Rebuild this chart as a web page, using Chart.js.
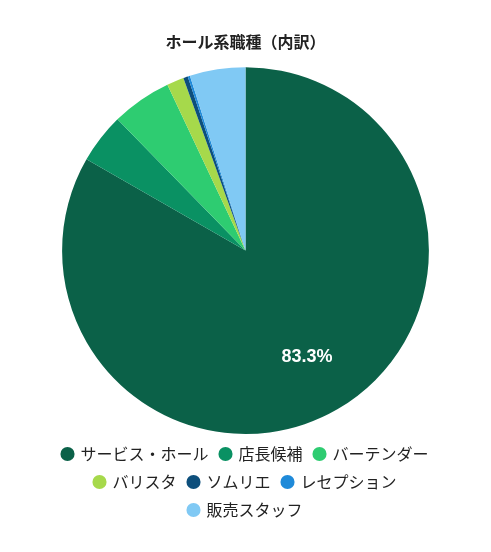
<!DOCTYPE html>
<html>
<head>
<meta charset="utf-8">
<script src="https://cdn.jsdelivr.net/npm/chart.js@4"></script>
<style>
  body { margin: 0; background: #fff; }
  #wrap { width: 491px; height: 552px; }
</style>
</head>
<body>
<div id="wrap"><canvas id="chart"></canvas></div>
<script>
const labels = ['サービス・ホール', '店長候補', 'バーテンダー', 'バリスタ', 'ソムリエ', 'レセプション', '販売スタッフ'];
const shares = [83.3, 4.4, 5.3, 1.5, 0.4, 0.2, 4.9];
const colors = ['#0b6148', '#0a9163', '#2ecc71', '#a6d94b', '#0d4f7c', '#1f8ad9', '#80c9f4'];

// white percentage label on the big slice only
const sliceLabel = {
    id: 'sliceLabel',
    afterDatasetsDraw(chart) {
        const ctx = chart.ctx;
        const meta = chart.getDatasetMeta(0);
        meta.data.forEach((arc, i) => {
            if (shares[i] < 10) return;
            const mid = (arc.startAngle + arc.endAngle) / 2;
            const r = arc.outerRadius * 0.67;
            ctx.save();
            ctx.fillStyle = '#fff';
            ctx.font = 'bold 18px "Liberation Sans", Arial, sans-serif';
            ctx.textAlign = 'center';
            ctx.textBaseline = 'middle';
            ctx.fillText(shares[i].toFixed(1) + '%', arc.x + Math.cos(mid) * r, arc.y + Math.sin(mid) * r);
            ctx.restore();
        });
    }
};

const ctx = document.getElementById('chart').getContext('2d');
new Chart(ctx, {
    type: 'pie',
    data: {
        labels: labels,
        datasets: [{
            data: shares,
            backgroundColor: colors,
            borderWidth: 0
        }]
    },
    options: {
        responsive: true,
        maintainAspectRatio: false,
        animation: false,
        layout: { padding: { top: 10, bottom: 24, left: 20, right: 20 } },
        plugins: {
            title: {
                display: true,
                text: 'ホール系職種（内訳）',
                color: '#222',
                font: { size: 16, weight: 'bold', family: '"Noto Sans CJK JP", sans-serif' },
                padding: { top: 22, bottom: 16 }
            },
            legend: {
                position: 'bottom',
                labels: {
                    usePointStyle: true,
                    pointStyle: 'circle',
                    boxWidth: 10,
                    boxHeight: 10,
                    padding: 12,
                    color: '#222',
                    font: { size: 16, family: '"Noto Sans CJK JP", sans-serif' }
                }
            },
            tooltip: { enabled: false }
        }
    },
    plugins: [sliceLabel]
});
</script>
</body>
</html>
